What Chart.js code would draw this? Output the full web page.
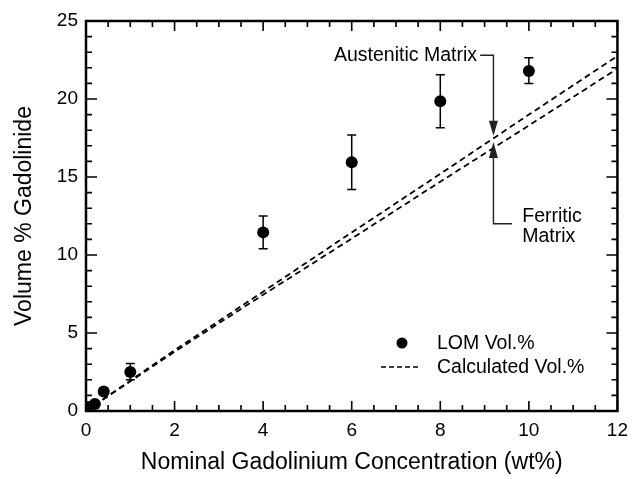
<!DOCTYPE html>
<html>
<head>
<meta charset="utf-8">
<script src="https://cdn.jsdelivr.net/npm/chart.js@4.4.0/dist/chart.umd.min.js"></script>
<style>
  html, body { margin: 0; padding: 0; background: #fff; }
  #wrap { width: 636px; height: 479px; }
</style>
</head>
<body>
<div id="wrap"><canvas id="chart" width="636" height="479"></canvas></div>
<script>
// measured LOM volume fractions with error bars
const nominalGd  = [0.05, 0.2, 0.4, 1, 4, 6, 8, 10];
const lomVol     = [0.25, 0.45, 1.25, 2.5, 11.45, 15.95, 19.85, 21.8];
const lomErrLow  = [null, null, null, 2.0, 10.4, 14.2, 18.15, 21.0];
const lomErrHigh = [null, null, null, 3.05, 12.5, 17.7, 21.55, 22.65];

// calculated volume fractions (two matrix assumptions)
const calcGd        = [0, 2, 4, 6, 8, 10, 12];
const austeniticVol = [0, 3.9, 7.65, 11.45, 15.2, 19.0, 22.75];
const ferriticVol   = [0, 3.8, 7.45, 11.05, 14.7, 18.3, 21.95];

const xTicks = [0, 2, 4, 6, 8, 10, 12];
const yTicks = [0, 5, 10, 15, 20, 25];

const FONT = '"Liberation Sans", Arial, Helvetica, sans-serif';
const INK = '#000';

const toXY = (xs, ys) => xs.map((x, i) => ({x: x, y: ys[i]}));

const framePlugin = {
  id: 'frame',
  beforeDatasetsDraw(chart){
    const {ctx, scales: {x, y}} = chart;
    ctx.save();
    // error bars
    ctx.strokeStyle = INK; ctx.lineWidth = 1.5;
    nominalGd.forEach((g, i) => {
      if(lomErrHigh[i] == null) return;
      const px = x.getPixelForValue(g);
      const lo = y.getPixelForValue(lomErrLow[i]);
      const hi = y.getPixelForValue(lomErrHigh[i]);
      ctx.beginPath();
      ctx.moveTo(px, lo); ctx.lineTo(px, hi);
      ctx.moveTo(px - 4.5, lo); ctx.lineTo(px + 4.5, lo);
      ctx.moveTo(px - 4.5, hi); ctx.lineTo(px + 4.5, hi);
      ctx.stroke();
    });
    ctx.restore();
  },
  afterDraw(chart){
    const {ctx, chartArea: a, scales: {x, y}} = chart;
    ctx.save();
    ctx.strokeStyle = INK;
    // inward ticks, all four sides
    ctx.lineWidth = 1.6;
    ctx.beginPath();
    for(let v = 0; v <= 12.001; v += 0.5){
      const px = x.getPixelForValue(v);
      const len = (Math.round(v * 2) % 4 === 0) ? 10 : 6;
      ctx.moveTo(px, a.bottom); ctx.lineTo(px, a.bottom - len);
      ctx.moveTo(px, a.top); ctx.lineTo(px, a.top + len);
    }
    for(let v = 0; v <= 25.001; v += 1){
      const py = y.getPixelForValue(v);
      const len = (Math.round(v) % 5 === 0) ? 11 : 6;
      ctx.moveTo(a.left, py); ctx.lineTo(a.left + len, py);
      ctx.moveTo(a.right, py); ctx.lineTo(a.right - len, py);
    }
    ctx.stroke();
    // frame
    ctx.lineWidth = 2.5;
    ctx.strokeRect(a.left, a.top, a.right - a.left, a.bottom - a.top);

    // annotations
    ctx.fillStyle = INK;
    ctx.font = '19.5px ' + FONT;
    ctx.textBaseline = 'middle';
    const ax = x.getPixelForValue(9.2);
    const topY = y.getPixelForValue(22.8);
    const austTip = y.getPixelForValue(17.65);
    const ferTip = y.getPixelForValue(17.25);
    const ferBot = y.getPixelForValue(12.0);

    ctx.textAlign = 'right';
    ctx.fillText('Austenitic Matrix', x.getPixelForValue(8.83), topY);
    ctx.textAlign = 'left';
    ctx.fillText('Ferritic', x.getPixelForValue(9.85), y.getPixelForValue(12.45));
    ctx.fillText('Matrix', x.getPixelForValue(9.85), y.getPixelForValue(11.2));

    ctx.strokeStyle = '#222'; ctx.lineWidth = 1.4;
    ctx.beginPath();
    ctx.moveTo(x.getPixelForValue(8.9), topY); ctx.lineTo(ax, topY); ctx.lineTo(ax, austTip - 12);
    ctx.moveTo(ax, ferTip + 14); ctx.lineTo(ax, ferBot); ctx.lineTo(x.getPixelForValue(9.62), ferBot);
    ctx.stroke();
    ctx.fillStyle = '#222';
    ctx.beginPath();
    ctx.moveTo(ax, austTip); ctx.lineTo(ax - 4.5, austTip - 15); ctx.lineTo(ax + 4.5, austTip - 15); ctx.closePath();
    ctx.moveTo(ax, ferTip); ctx.lineTo(ax - 4.5, ferTip + 16); ctx.lineTo(ax + 4.5, ferTip + 16); ctx.closePath();
    ctx.fill();

    // legend
    ctx.fillStyle = INK;
    ctx.beginPath(); ctx.arc(402, 343, 5.5, 0, Math.PI * 2); ctx.fill();
    ctx.strokeStyle = INK; ctx.lineWidth = 1.6; ctx.setLineDash([5, 3]);
    ctx.beginPath(); ctx.moveTo(381, 367); ctx.lineTo(421, 367); ctx.stroke();
    ctx.setLineDash([]);
    ctx.font = '19.5px ' + FONT;
    ctx.fillText('LOM Vol.%', 437, 344);
    ctx.fillText('Calculated Vol.%', 437, 368);
    ctx.restore();
  }
};

new Chart(document.getElementById('chart'), {
  type: 'scatter',
  data: {
    datasets: [
      {label: 'LOM Vol.%', data: toXY(nominalGd, lomVol), pointRadius: 6, pointBackgroundColor: INK, pointBorderWidth: 0, showLine: false},
      {label: 'Austenitic', type: 'line', data: toXY(calcGd, austeniticVol), borderColor: INK, borderWidth: 1.8, borderDash: [6, 4], pointRadius: 0, fill: false, tension: 0},
      {label: 'Ferritic', type: 'line', data: toXY(calcGd, ferriticVol), borderColor: INK, borderWidth: 1.8, borderDash: [6, 4], pointRadius: 0, fill: false, tension: 0}
    ]
  },
  options: {
    responsive: false,
    animation: false,
    devicePixelRatio: 1,
    layout: {padding: {top: 21, right: 13, left: 0, bottom: 0}},
    plugins: {legend: {display: false}, tooltip: {enabled: false}},
    scales: {
      x: {
        type: 'linear', min: 0, max: 12,
        afterBuildTicks: s => { s.ticks = xTicks.map(v => ({value: v})); },
        afterFit: s => { s.height = 68; },
        ticks: {font: {family: FONT, size: 19}, color: INK, padding: 8},
        grid: {display: false, drawTicks: false},
        border: {display: false},
        title: {display: true, text: 'Nominal Gadolinium Concentration (wt%)', font: {family: FONT, size: 23}, color: INK, padding: {top: 0, bottom: 3}}
      },
      y: {
        type: 'linear', min: 0, max: 25,
        afterBuildTicks: s => { s.ticks = yTicks.map(v => ({value: v})); },
        afterFit: s => { s.width = 86; },
        ticks: {font: {family: FONT, size: 19}, color: INK, padding: 8},
        grid: {display: false, drawTicks: false},
        border: {display: false},
        title: {display: true, text: 'Volume % Gadolinide', font: {family: FONT, size: 23}, color: INK, padding: {top: 11, bottom: 0}}
      }
    }
  },
  plugins: [framePlugin]
});
</script>
</body>
</html>
